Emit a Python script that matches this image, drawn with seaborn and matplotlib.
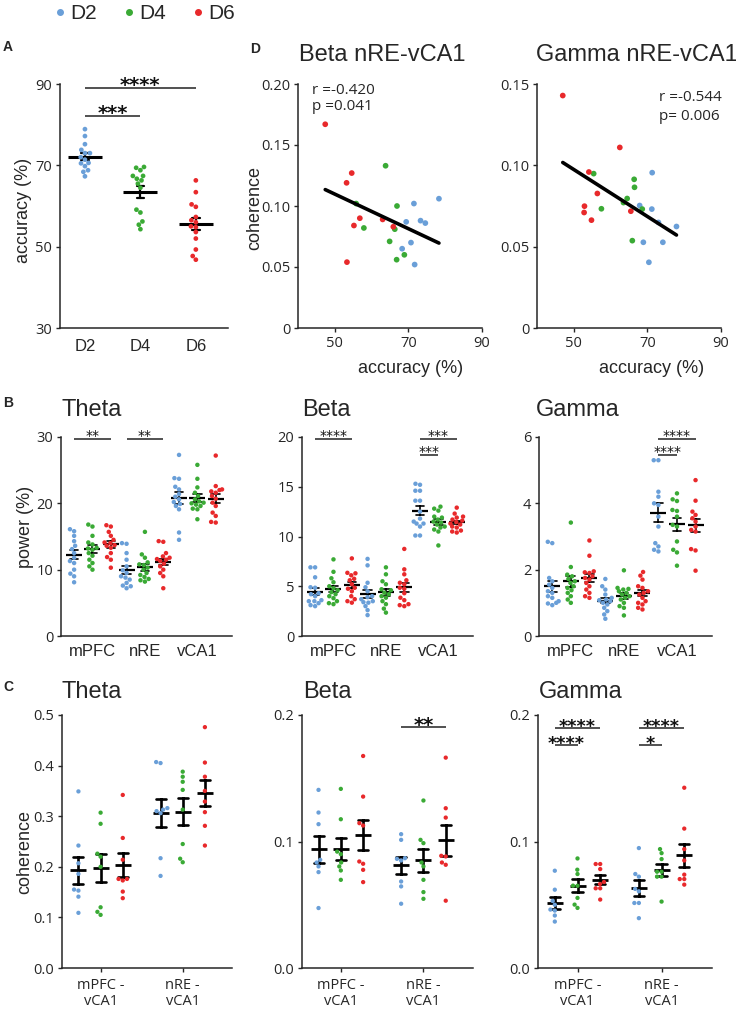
import numpy as np
import pandas as pd
import matplotlib
matplotlib.use("Agg")
import matplotlib.pyplot as plt
import seaborn as sns
from matplotlib.lines import Line2D

# ---------------- data ----------------
days = ["D2", "D4", "D6"]
day_colors = ["#6a9fd8", "#3aaa35", "#e8292b"]
regions3 = ["mPFC", "nRE", "vCA1"]
pairs2 = ["mPFC -\nvCA1", "nRE -\nvCA1"]

# Panel A: accuracy (%)
acc_D2 = [78.9, 77.2, 75.2, 73.8, 73.0, 73.0, 72.0, 71.4, 70.6, 70.5, 69.8, 68.8, 68.4, 67.3]
acc_D4 = [69.6, 69.4, 68.8, 67.4, 67.4, 66.7, 66.3, 65.5, 64.5, 59.1, 58.4, 56.2, 55.4, 54.3]
acc_D6 = [66.3, 63.4, 60.4, 59.8, 57.3, 56.5, 56.0, 55.0, 54.8, 53.6, 52.0, 49.3, 47.7, 46.8]

# Panel D: accuracy vs coherence
beta_acc_D2 = [71.5, 78.3, 69.4, 73.3, 74.6, 70.7, 68.3, 71.7]
beta_coh_D2 = [0.102, 0.106, 0.087, 0.088, 0.086, 0.070, 0.065, 0.052]
beta_acc_D4 = [63.8, 66.9, 55.8, 57.9, 66.3, 64.9, 68.9, 66.8]
beta_coh_D4 = [0.133, 0.100, 0.102, 0.082, 0.081, 0.071, 0.060, 0.056]
beta_acc_D6 = [47.4, 54.6, 53.2, 56.8, 55.2, 63.0, 65.9, 53.3]
beta_coh_D6 = [0.167, 0.127, 0.119, 0.090, 0.084, 0.089, 0.083, 0.054]

gamma_acc_D2 = [71.3, 67.9, 71.2, 73.0, 77.9, 68.9, 74.2, 70.4]
gamma_coh_D2 = [0.0955, 0.0753, 0.0731, 0.0649, 0.0624, 0.0527, 0.0527, 0.0404]
gamma_acc_D4 = [55.4, 66.4, 66.5, 64.5, 63.5, 57.5, 68.6, 65.9]
gamma_coh_D4 = [0.0949, 0.0914, 0.0865, 0.0796, 0.0771, 0.0733, 0.0731, 0.0537]
gamma_acc_D6 = [47.0, 54.1, 62.5, 56.4, 52.9, 52.8, 54.8, 65.5]
gamma_coh_D6 = [0.1429, 0.0959, 0.111, 0.0827, 0.0749, 0.071, 0.0663, 0.0718]

# Panel B: power (%) per region, [D2, D4, D6]
theta_pow_mPFC = [[16.1, 15.8, 15.1, 14.3, 13.6, 13.1, 12.5, 11.8, 11.3, 11.0, 10.0, 9.4, 9.0, 8.1],
                  [16.8, 16.5, 15.1, 14.1, 13.8, 13.3, 13.2, 13.0, 12.5, 12.1, 11.5, 11.0, 10.5, 10.0],
                  [16.7, 16.5, 15.7, 15.1, 14.5, 14.1, 14.0, 13.7, 13.6, 13.3, 12.5, 11.9, 11.5, 10.3]]
theta_pow_nRE = [[14.0, 13.9, 12.5, 11.5, 10.5, 9.9, 9.5, 9.0, 8.8, 8.5, 8.0, 7.6, 7.5, 7.2],
                 [15.7, 12.3, 11.8, 11.1, 10.8, 10.7, 10.3, 10.0, 9.5, 9.2, 8.9, 8.6, 8.4, 8.2],
                 [14.3, 14.2, 12.5, 12.0, 11.8, 11.6, 11.5, 11.3, 10.9, 10.5, 10.0, 9.5, 9.0, 7.2]]
theta_pow_vCA1 = [[27.3, 23.8, 23.7, 22.5, 22.1, 21.4, 21.0, 20.6, 20.2, 19.9, 19.6, 19.1, 15.6, 14.5],
                  [25.8, 23.7, 22.4, 21.6, 21.1, 20.6, 20.3, 20.1, 20.0, 19.8, 19.6, 19.2, 19.1, 17.6],
                  [27.2, 22.6, 22.1, 22.0, 21.8, 21.6, 21.1, 20.7, 20.1, 19.6, 18.6, 18.1, 17.2, 17.1]]

beta_pow_mPFC = [[6.9, 6.9, 5.9, 4.9, 4.85, 4.2, 4.3, 4.0, 3.5, 3.6, 3.5, 3.3, 3.1, 3.0],
                 [7.7, 6.45, 5.8, 5.4, 5.0, 4.8, 4.6, 4.4, 4.2, 4.0, 3.8, 3.5, 3.3, 3.2],
                 [7.8, 6.35, 6.3, 6.1, 5.75, 5.6, 5.2, 4.85, 4.75, 4.5, 4.0, 3.7, 3.5, 3.35]]
beta_pow_nRE = [[7.75, 7.1, 5.35, 4.9, 4.5, 3.9, 4.0, 3.4, 3.7, 3.5, 3.35, 3.0, 2.6, 2.1],
                [6.9, 6.2, 5.5, 5.2, 4.6, 4.7, 4.35, 4.2, 3.85, 3.5, 3.2, 2.75, 2.35, 4.0],
                [8.75, 6.7, 6.2, 5.6, 5.35, 5.2, 4.85, 4.75, 4.3, 3.85, 3.6, 3.2, 3.1, 3.0]]
beta_pow_vCA1 = [[15.3, 15.2, 14.6, 14.6, 13.6, 13.6, 12.5, 11.8, 11.5, 11.3, 11.3, 11.0, 10.1, 10.1],
                 [13.0, 12.8, 12.6, 12.0, 11.9, 11.7, 11.5, 11.4, 11.2, 11.0, 10.9, 10.7, 10.5, 9.1],
                 [12.9, 12.3, 12.0, 11.9, 11.7, 11.6, 11.45, 11.3, 11.2, 11.0, 10.9, 10.6, 10.5, 10.4]]

gamma_pow_mPFC = [[2.84, 2.8, 1.75, 1.65, 1.55, 1.45, 1.35, 1.3, 1.2, 1.15, 1.05, 1.0, 0.98, 0.93],
                  [3.42, 2.08, 1.85, 1.8, 1.72, 1.65, 1.6, 1.5, 1.45, 1.38, 1.3, 1.2, 1.1, 1.0],
                  [2.88, 2.42, 1.95, 1.92, 1.9, 1.8, 1.75, 1.7, 1.6, 1.5, 1.4, 1.3, 1.2, 1.15]]
gamma_pow_nRE = [[1.72, 1.5, 1.4, 1.25, 1.15, 1.1, 1.08, 1.05, 1.0, 0.95, 0.85, 0.75, 0.65, 0.52],
                 [1.98, 1.45, 1.42, 1.4, 1.35, 1.3, 1.25, 1.2, 1.15, 1.1, 1.0, 0.9, 0.85, 0.62],
                 [1.93, 1.82, 1.7, 1.5, 1.45, 1.35, 1.3, 1.25, 1.15, 1.05, 1.0, 0.95, 0.85, 0.8]]
gamma_pow_vCA1 = [[5.3, 5.3, 4.35, 4.2, 4.0, 3.95, 3.6, 3.3, 2.8, 2.7, 2.6, 2.55],
                  [4.3, 4.12, 4.07, 3.8, 3.77, 3.6, 3.35, 3.3, 2.85, 2.6, 2.52, 2.12],
                  [4.7, 4.08, 3.75, 3.65, 3.55, 3.45, 3.3, 3.2, 3.15, 2.62, 2.58, 1.97]]

# Panel C: coherence per pair, [D2, D4, D6]
theta_coh_mPFC = [[0.349, 0.242, 0.207, 0.186, 0.155, 0.153, 0.141, 0.109],
                  [0.307, 0.285, 0.226, 0.220, 0.200, 0.120, 0.111, 0.105],
                  [0.342, 0.257, 0.214, 0.176, 0.176, 0.173, 0.151, 0.138]]
theta_coh_nRE = [[0.407, 0.405, 0.316, 0.313, 0.310, 0.306, 0.217, 0.182],
                 [0.388, 0.378, 0.368, 0.352, 0.313, 0.245, 0.216, 0.209],
                 [0.476, 0.406, 0.378, 0.350, 0.329, 0.308, 0.281, 0.242]]
beta_cohC_mPFC = [[0.1408, 0.1229, 0.1137, 0.0855, 0.0834, 0.0803, 0.0758, 0.0474],
                  [0.1416, 0.1176, 0.092, 0.090, 0.0834, 0.0803, 0.0771, 0.0697],
                  [0.1676, 0.1355, 0.1145, 0.1126, 0.0842, 0.0824, 0.0776, 0.0679]]
beta_cohC_nRE = [[0.1058, 0.1013, 0.0868, 0.0863, 0.085, 0.0684, 0.0645, 0.0508],
                 [0.1324, 0.1013, 0.0987, 0.0834, 0.0803, 0.0697, 0.060, 0.0547],
                 [0.1663, 0.1263, 0.1189, 0.0887, 0.0882, 0.0834, 0.0816, 0.0532]]
gamma_cohC_mPFC = [[0.0769, 0.0619, 0.053, 0.050, 0.0462, 0.0454, 0.0415, 0.0367],
                   [0.0866, 0.0777, 0.0743, 0.0651, 0.065, 0.0554, 0.0501, 0.0475],
                   [0.0822, 0.0822, 0.0782, 0.068, 0.0664, 0.063, 0.063, 0.0541]]
gamma_cohC_nRE = [[0.0948, 0.0743, 0.0722, 0.0625, 0.0606, 0.0514, 0.0514, 0.0394],
                  [0.094, 0.0908, 0.0861, 0.0761, 0.0761, 0.0722, 0.0722, 0.0525],
                  [0.1425, 0.1102, 0.094, 0.085, 0.0738, 0.0703, 0.0703, 0.0659]]

# ---------------- style / layout ----------------
sns.set_style("ticks")
plt.rcParams["font.family"] = ["Open Sans", "DejaVu Sans"]
LAB = ["Liberation Sans", "DejaVu Sans"]
STAR = ["DejaVu Sans"]
AX_COL = "#262626"

W, H = 736, 1011
fig = plt.figure(figsize=(W / 100, H / 100), dpi=100)


def add_ax(l, t, r, b):
    return fig.add_axes([l / W, 1 - b / H, (r - l) / W, (b - t) / H])


def ftxt(x, y, s, **kw):
    fig.text(x / W, 1 - y / H, s, **kw)


def style(ax, xtick_len=0, xfs=12, xfam=LAB, xpad=6):
    sns.despine(ax=ax)
    for sp in ("left", "bottom"):
        ax.spines[sp].set_linewidth(1.1)
        ax.spines[sp].set_color(AX_COL)
    ax.tick_params(axis="y", length=3, width=1, pad=2.5, labelsize=10.5, colors=AX_COL)
    ax.tick_params(axis="x", length=xtick_len, width=1, pad=xpad, colors=AX_COL)
    for lab in ax.get_xticklabels():
        lab.set_fontsize(xfs)
        lab.set_family(xfam)
    ax.set_xlabel("")
    ax.set_ylabel("")


def sig(ax, x1, x2, y, text, fs, bold, dy):
    ax.plot([x1, x2], [y, y], color="#333333", lw=1.2, clip_on=False, solid_capstyle="butt")
    ax.annotate(text, xy=((x1 + x2) / 2, y), xytext=(0, dy), textcoords="offset points",
                ha="center", va="baseline", fontsize=fs, family=STAR,
                fontweight="bold" if bold else "normal", annotation_clip=False, color="#111111")


def long_frame(groups, offset):
    rows = []
    for i, region_vals in enumerate(groups):
        for j, vals in enumerate(region_vals):
            for v in vals:
                rows.append((i + (j - 1) * offset, days[j], v))
    return pd.DataFrame(rows, columns=["pos", "day", "val"])


def group_plot(ax, groups, offset, size, msize, mew, cap, elw):
    df = long_frame(groups, offset)
    sns.swarmplot(data=df, x="pos", y="val", hue="day", hue_order=days, palette=day_colors,
                  native_scale=True, orient="x", size=size, legend=False, ax=ax, warn_thresh=1)
    sns.pointplot(data=df, x="pos", y="val", native_scale=True, orient="x", errorbar="se",
                  color="k", marker="_", markersize=msize, markeredgewidth=mew,
                  linestyle="none", capsize=cap, err_kws={"linewidth": elw}, ax=ax)


# ---------------- legend ----------------
handles = [Line2D([], [], marker="o", ls="", color=c, markersize=4.0) for c in day_colors]
fig.legend(handles, days, loc="upper left", bbox_to_anchor=(52 / W, 1.0), ncol=3,
           frameon=False, prop={"family": LAB, "size": 15}, handlelength=0.4,
           handletextpad=0.28, columnspacing=1.35, borderpad=0.2, borderaxespad=0)

# ---------------- panel A ----------------
axA = add_ax(60, 84, 228, 328)
dfA = pd.DataFrame({"day": np.repeat(days, [len(acc_D2), len(acc_D4), len(acc_D6)]),
                    "acc": acc_D2 + acc_D4 + acc_D6})
sns.swarmplot(data=dfA, x="day", y="acc", hue="day", order=days, hue_order=days,
              palette=day_colors, size=3.4, legend=False, ax=axA)
sns.pointplot(data=dfA, x="day", y="acc", order=days, errorbar="se", color="k", marker="_",
              markersize=25, markeredgewidth=2.2, linestyle="none", capsize=0.14,
              err_kws={"linewidth": 1.6}, ax=axA)
axA.set_ylim(30, 90)
axA.set_yticks([30, 50, 70, 90])
axA.set_xlim(-0.45, 2.58)
style(axA, xtick_len=0, xfs=12, xpad=8)
axA.set_ylabel("accuracy (%)", family=LAB, fontsize=13, va="center")
axA.yaxis.set_label_coords(-0.22, 0.48)
sig(axA, 0, 1, 82.1, "***", 14, True, -2.4)
sig(axA, 0, 2, 89.0, "****", 14, True, -2.4)
ftxt(3, 47, "A", fontsize=10, fontweight="bold", family=LAB, va="center")

# ---------------- panel D ----------------
def corr_plot(ax, acc_lists, coh_lists, ymax, yticks, ylabs):
    df = pd.DataFrame({"acc": sum(acc_lists, []), "coh": sum(coh_lists, []),
                       "day": np.repeat(days, [len(a) for a in acc_lists])})
    sns.scatterplot(data=df, x="acc", y="coh", hue="day", hue_order=days, palette=day_colors,
                    s=17, linewidth=0, legend=False, ax=ax)
    sns.regplot(data=df, x="acc", y="coh", scatter=False, ci=None, color="k",
                line_kws={"linewidth": 2.6}, ax=ax)
    ax.set_xlim(40, 90)
    ax.set_ylim(0, ymax)
    ax.set_xticks([50, 70, 90])
    ax.set_yticks(yticks, ylabs)
    style(ax, xtick_len=3, xfs=10.5, xfam=["Open Sans"], xpad=2.5)
    ax.set_xlabel("accuracy (%)", family=LAB, fontsize=13, va="center")


axD1 = add_ax(298, 84, 482, 328)
corr_plot(axD1, [beta_acc_D2, beta_acc_D4, beta_acc_D6], [beta_coh_D2, beta_coh_D4, beta_coh_D6],
          0.20, [0, 0.05, 0.10, 0.15, 0.20], ["0", "0.05", "0.10", "0.15", "0.20"])
axD1.xaxis.set_label_coords(0.61, -0.168)
axD1.set_ylabel("coherence", family=LAB, fontsize=13, va="center")
axD1.yaxis.set_label_coords(-0.234, 0.49)

axD2 = add_ax(537, 84, 721, 328)
corr_plot(axD2, [gamma_acc_D2, gamma_acc_D4, gamma_acc_D6],
          [gamma_coh_D2, gamma_coh_D4, gamma_coh_D6],
          0.15, [0, 0.05, 0.10, 0.15], ["0", "0.05", "0.10", "0.15"])
axD2.xaxis.set_label_coords(0.625, -0.168)

ftxt(250, 49, "D", fontsize=10, fontweight="bold", family=LAB, va="center")
ftxt(382, 55, "Beta nRE-vCA1", fontsize=17, family=LAB, ha="center", va="center")
ftxt(637, 55, "Gamma nRE-vCA1", fontsize=17, family=LAB, ha="center", va="center")
ftxt(312, 90, "r =-0.420", fontsize=11, va="center")
ftxt(312, 107, "p =0.041", fontsize=11, va="center")
ftxt(659, 98, "r =-0.544", fontsize=11, va="center")
ftxt(659, 116, "p= 0.006", fontsize=11, va="center")

# ---------------- panel B ----------------
B_OFF = 0.35
B_CAP = 0.55


def bpos(i, j):
    return i + (j - 1) * B_OFF


def power_axes(l, r, groups, ymax, yticks):
    ax = add_ax(l, 437, r, 636)
    group_plot(ax, groups, B_OFF, 3.2, 11, 1.6, B_CAP, 1.2)
    ax.set_ylim(0, ymax)
    ax.set_yticks(yticks)
    ax.set_xlim(-0.6, 2.66)
    ax.set_xticks([0, 1, 2], regions3)
    style(ax, xtick_len=0, xfs=12, xpad=6)
    return ax


axB1 = power_axes(61, 232, [theta_pow_mPFC, theta_pow_nRE, theta_pow_vCA1], 30, [0, 10, 20, 30])
axB1.set_ylabel("power (%)", family=LAB, fontsize=13, va="center")
axB1.yaxis.set_label_coords(-0.21, 0.55)
sig(axB1, bpos(0, 0), bpos(0, 2), 29.7, "**", 10, False, -0.7)
sig(axB1, bpos(1, 0), bpos(1, 2), 29.7, "**", 10, False, -0.7)

axB2 = power_axes(302, 473, [beta_pow_mPFC, beta_pow_nRE, beta_pow_vCA1], 20, [0, 5, 10, 15, 20])
sig(axB2, bpos(0, 0), bpos(0, 2), 19.8, "****", 10, False, -0.7)
sig(axB2, bpos(2, 0), bpos(2, 1), 18.2, "***", 10, False, -0.7)
sig(axB2, bpos(2, 0), bpos(2, 2), 19.8, "***", 10, False, -0.7)

axB3 = power_axes(539, 712, [gamma_pow_mPFC, gamma_pow_nRE, gamma_pow_vCA1], 6, [0, 2, 4, 6])
sig(axB3, bpos(2, 0), bpos(2, 2), 5.94, "****", 10, False, -0.7)
sig(axB3, bpos(2, 0), bpos(2, 1), 5.46, "****", 10, False, -0.7)

ftxt(3, 403, "B", fontsize=10, fontweight="bold", family=LAB, va="center")
ftxt(62, 410, "Theta", fontsize=17, family=LAB, va="center")
ftxt(302, 410, "Beta", fontsize=17, family=LAB, va="center")
ftxt(536, 410, "Gamma", fontsize=17, family=LAB, va="center")

# ---------------- panel C ----------------
C_OFF = 0.27
C_CAP = 0.45


def cpos(i, j):
    return i + (j - 1) * C_OFF


def coh_axes(l, r, groups, ymax, yticks, ylabs):
    ax = add_ax(l, 715, r, 968)
    group_plot(ax, groups, C_OFF, 3.1, 11, 2.0, C_CAP, 1.9)
    ax.set_ylim(0, ymax)
    ax.set_yticks(yticks, ylabs)
    ax.set_xlim(-0.47, 1.6)
    ax.set_xticks([0, 1], pairs2)
    style(ax, xtick_len=3, xfs=10.5, xfam=["Open Sans"], xpad=4)
    for lab in ax.get_xticklabels():
        lab.set_linespacing(1.15)
    return ax


axC1 = coh_axes(62, 232, [theta_coh_mPFC, theta_coh_nRE], 0.5,
                [0, 0.1, 0.2, 0.3, 0.4, 0.5], ["0.0", "0.1", "0.2", "0.3", "0.4", "0.5"])
axC1.set_ylabel("coherence", family=LAB, fontsize=13, va="center")
axC1.yaxis.set_label_coords(-0.218, 0.46)

axC2 = coh_axes(302, 473, [beta_cohC_mPFC, beta_cohC_nRE], 0.2, [0, 0.1, 0.2], ["0.0", "0.1", "0.2"])
sig(axC2, cpos(1, 0), cpos(1, 2), 0.1905, "**", 14, True, -3.0)

axC3 = coh_axes(538, 712, [gamma_cohC_mPFC, gamma_cohC_nRE], 0.2, [0, 0.1, 0.2], ["0.0", "0.1", "0.2"])
sig(axC3, cpos(0, 0), cpos(0, 2), 0.1897, "****", 12.5, True, -2.6)
sig(axC3, cpos(0, 0), cpos(0, 1), 0.1763, "****", 12.5, True, -2.6)
sig(axC3, cpos(1, 0), cpos(1, 2), 0.1897, "****", 12.5, True, -2.6)
sig(axC3, cpos(1, 0), cpos(1, 1), 0.1763, "*", 12.5, True, -2.6)

ftxt(3, 687, "C", fontsize=10, fontweight="bold", family=LAB, va="center")
ftxt(62, 692, "Theta", fontsize=17, family=LAB, va="center")
ftxt(303, 692, "Beta", fontsize=17, family=LAB, va="center")
ftxt(539, 692, "Gamma", fontsize=17, family=LAB, va="center")

fig.savefig("out.png", dpi=100)
